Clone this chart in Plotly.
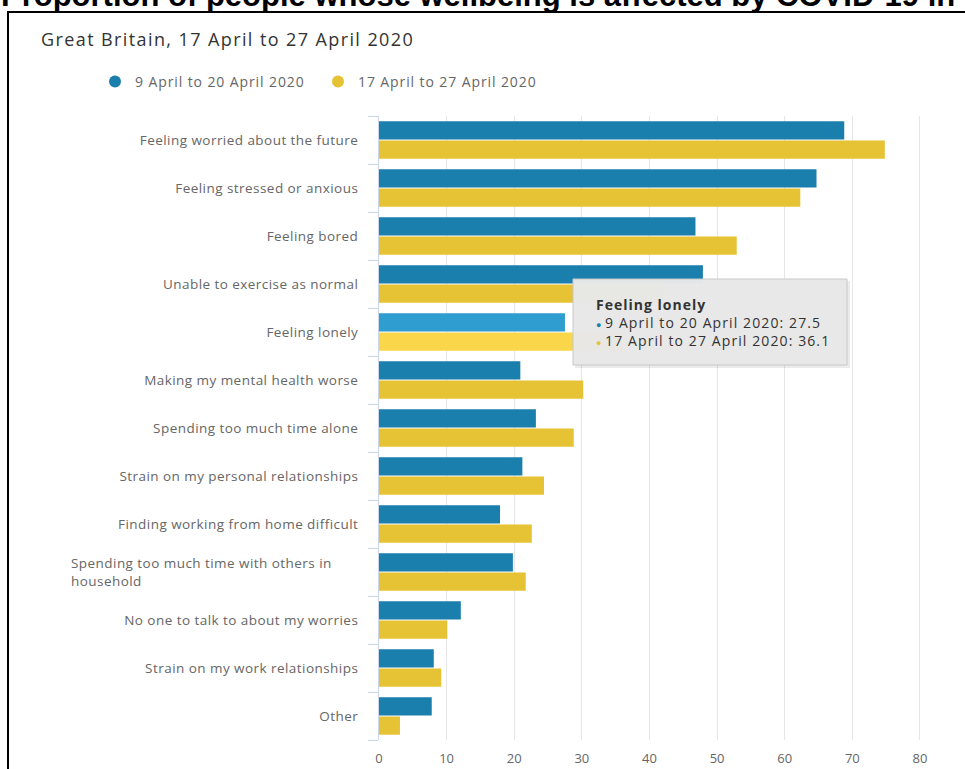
import plotly.graph_objects as go

categories = [
    "Feeling worried about the future",
    "Feeling stressed or anxious",
    "Feeling bored",
    "Unable to exercise as normal",
    "Feeling lonely",
    "Making my mental health worse",
    "Spending too much time alone",
    "Strain on my personal relationships",
    "Finding working from home difficult",
    "Spending too much time with others in household",
    "No one to talk to about my worries",
    "Strain on my work relationships",
    "Other",
]
series1_name = "9 April to 20 April 2020"
series2_name = "17 April to 27 April 2020"
series1 = [68.8, 64.7, 46.8, 47.9, 27.5, 20.9, 23.2, 21.2, 17.9, 19.8, 12.1, 8.1, 7.8]
series2 = [74.8, 62.3, 52.9, 42.0, 36.1, 30.2, 28.8, 24.4, 22.6, 21.7, 10.1, 9.2, 3.1]
x_ticks = [0, 10, 20, 30, 40, 50, 60, 70, 80]
highlight = "Feeling lonely"

BLUE = "#1b7fad"
YELLOW = "#e6c235"
BLUE_HI = "#2f9dcf"
YELLOW_HI = "#fad74a"
FONT = "Open Sans"


def spaced(text, ls):
    return f"<span style='letter-spacing:{ls}px'>{text}</span>"


c1 = [BLUE_HI if c == highlight else BLUE for c in categories]
c2 = [YELLOW_HI if c == highlight else YELLOW for c in categories]
hi_idx = categories.index(highlight)

fig = go.Figure()
fig.add_trace(go.Bar(y=categories, x=series1, orientation="h", name=series1_name,
                     marker=dict(color=c1, line=dict(width=0)), showlegend=False))
fig.add_trace(go.Bar(y=categories, x=series2, orientation="h", name=series2_name,
                     marker=dict(color=c2, line=dict(width=0)), showlegend=False))
# legend entries with round symbols
fig.add_trace(go.Scatter(x=[None], y=[None], mode="markers", name=spaced(series1_name, 0.9),
                         marker=dict(color=BLUE, size=12, symbol="circle")))
fig.add_trace(go.Scatter(x=[None], y=[None], mode="markers", name=spaced(series2_name, 0.9),
                         marker=dict(color=YELLOW, size=12, symbol="circle")))

wrapped = "Spending too much time with others in household"
ticktext = ["" if c == wrapped else spaced(c, 0.45) for c in categories]

L, R, T, B = 379, 43, 116, 29
W, H = 965, 769
pw, ph = W - L - R, H - T - B


def px_x(p):
    return (p - L) / pw


def px_y(p):
    return (H - B - p) / ph


tooltip_text = ("<b>" + spaced(highlight, 1.0) + "</b><br>"
                f"<span style='color:{BLUE};font-size:9px'>●</span> "
                + spaced(f"{series1_name}: {series1[hi_idx]}", 1.1) + "<br>"
                f"<span style='color:{YELLOW};font-size:9px'>●</span> "
                + spaced(f"{series2_name}: {series2[hi_idx]}", 1.1))

annotations = [
    dict(text="<b>Proportion of people whose wellbeing is affected by COVID-19 in Great Britain</b>",
         xref="paper", yref="paper", x=px_x(-1), y=px_y(-5), xanchor="left", yanchor="middle",
         showarrow=False, font=dict(family="Liberation Sans", size=31, color="#000000")),
    dict(text=spaced("Great Britain, 17 April to 27 April 2020", 1.4),
         xref="paper", yref="paper", x=px_x(39), y=px_y(39), xanchor="left", yanchor="middle",
         showarrow=False, font=dict(family=FONT, size=18, color="#333333")),
    dict(text=spaced("Spending too much time with others in", 0.45) + "<br>" + spaced("household", 0.45),
         xref="paper", yref="y", x=px_x(334), y=wrapped, xanchor="right", yanchor="middle",
         align="left", showarrow=False, font=dict(family=FONT, size=13.5, color="#666666")),
    dict(text=tooltip_text,
         xref="paper", yref="paper", x=px_x(594), y=px_y(322), xanchor="left", yanchor="middle",
         align="left", showarrow=False,
         font=dict(family=FONT, size=14, color="#333333")),
]

shapes = [
    # outer frame
    dict(type="rect", xref="paper", yref="paper", x0=px_x(8), x1=px_x(1000), y0=px_y(12), y1=px_y(800),
         line=dict(color="#000000", width=2), fillcolor="rgba(0,0,0,0)", layer="below"),
    # tooltip shadow
    dict(type="rect", xref="paper", yref="paper", x0=px_x(575), x1=px_x(850), y0=px_y(281), y1=px_y(368),
         line=dict(width=0), fillcolor="rgba(0,0,0,0.08)", layer="above"),
    # tooltip box
    dict(type="rect", xref="paper", yref="paper", x0=px_x(573), x1=px_x(847), y0=px_y(279), y1=px_y(365),
         line=dict(color="#c8c8c8", width=1), fillcolor="rgba(232,232,232,0.98)", layer="above"),
]

fig.update_layout(
    width=W, height=H,
    margin=dict(l=L, r=R, t=T, b=B, pad=0, autoexpand=False),
    paper_bgcolor="#ffffff", plot_bgcolor="#ffffff",
    barmode="group", bargap=0.2, bargroupgap=0.05,
    hovermode=False,
    font=dict(family=FONT, color="#666666"),
    legend=dict(orientation="h", x=px_x(95), y=px_y(66), xanchor="left", yanchor="top",
                font=dict(family=FONT, size=14, color="#666666"), entrywidth=178,
                bgcolor="rgba(0,0,0,0)", itemsizing="trace"),
    xaxis=dict(range=[0, 80.3], tickvals=x_ticks, showgrid=True, gridcolor="#e6e6e6", gridwidth=1,
               zeroline=False, showline=False, ticks="", ticklabelstandoff=9, automargin=False,
               tickfont=dict(family=FONT, size=13, color="#666666"), fixedrange=True),
    yaxis=dict(type="category", categoryorder="array", categoryarray=categories,
               tickvals=categories, ticktext=ticktext,
               autorange="reversed", showline=True, linecolor="#ccd6eb", linewidth=1,
               ticks="outside", tickson="boundaries", ticklen=10, tickcolor="#ccd6eb",
               showgrid=False, ticklabelstandoff=17, automargin=False,
               tickfont=dict(family=FONT, size=13.5, color="#666666"), fixedrange=True),
    annotations=annotations,
    shapes=shapes,
)

fig.write_html("out.html")
